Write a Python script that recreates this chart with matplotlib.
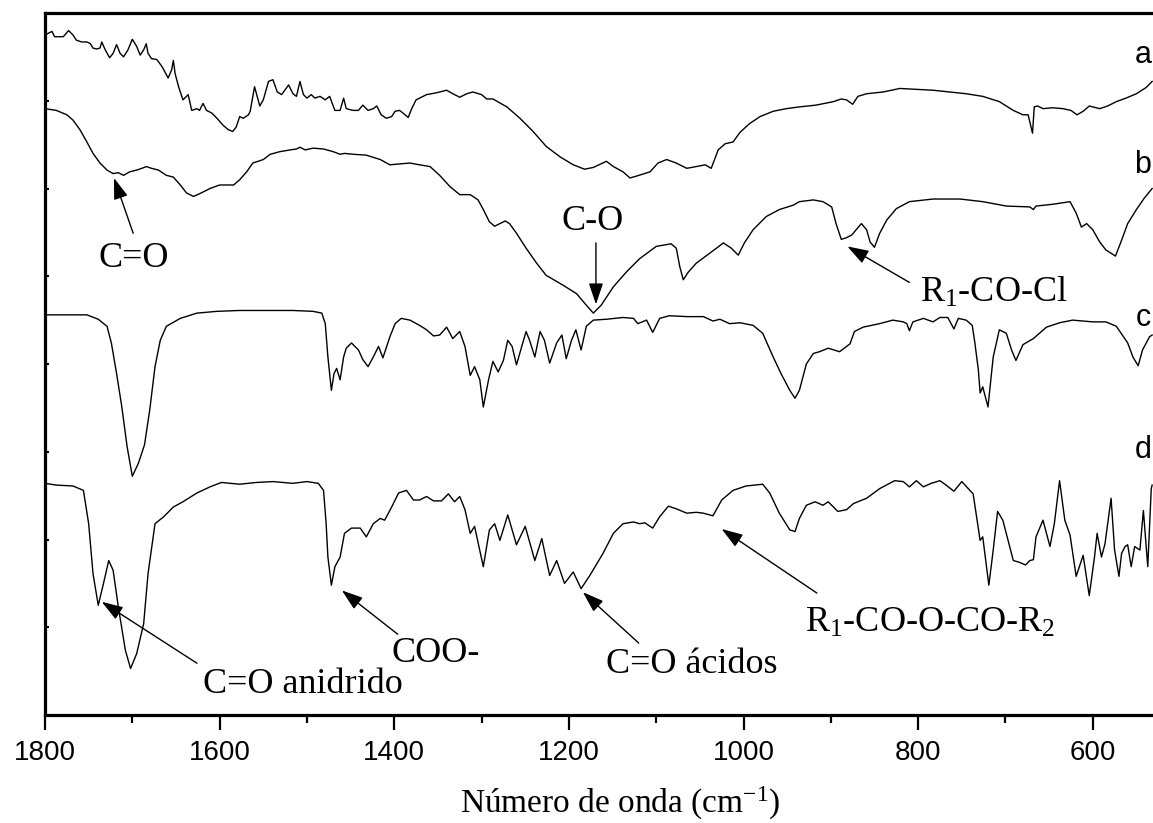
import matplotlib
matplotlib.use("Agg")
import matplotlib.pyplot as plt
from matplotlib.ticker import MultipleLocator

plt.rcParams['mathtext.fontset'] = 'custom'
plt.rcParams['mathtext.rm'] = 'Liberation Serif'
plt.rcParams['mathtext.it'] = 'Liberation Serif:italic'
plt.rcParams['mathtext.bf'] = 'Liberation Serif:bold'

# ---- data (wavenumber, offset intensity) ----
a_wn = [1800, 1792, 1789, 1779, 1773, 1768, 1764, 1758, 1752, 1748, 1745, 1741, 1737, 1735, 1731, 1726, 1722, 1718,
        1714, 1710, 1705, 1700, 1695, 1691, 1687, 1684, 1682, 1678, 1672, 1666, 1659, 1655, 1653, 1651, 1647, 1642,
        1636, 1632, 1626, 1623, 1619, 1615, 1609, 1603, 1596, 1590, 1585, 1581, 1577, 1573, 1567, 1565, 1560, 1554,
        1550, 1544, 1539, 1534, 1529, 1521, 1516, 1512, 1508, 1504, 1500, 1495, 1491, 1485, 1479, 1474, 1468, 1462,
        1458, 1455, 1447, 1441, 1436, 1430, 1424, 1420, 1415, 1409, 1403, 1399, 1394, 1390, 1384, 1380, 1375,
        1371, 1363, 1352, 1340, 1333, 1325, 1317, 1310, 1300, 1294, 1287, 1271, 1256, 1241, 1226, 1210, 1195, 1182,
        1172, 1157, 1149, 1138, 1130, 1123, 1107, 1098, 1088, 1077, 1065, 1054, 1044, 1037, 1029, 1021, 1012, 1004,
        993, 981, 966, 951,
        936, 917, 897, 888, 882, 875, 869, 859, 840, 821, 802, 783, 764, 745, 726, 707, 691, 680, 674, 669, 667, 663,
        657, 646, 634, 625, 618, 611, 604, 592, 583, 573, 562, 550, 539, 532]
a_val = [7.75, 7.79, 7.73, 7.73, 7.80, 7.75, 7.69, 7.67, 7.67, 7.65, 7.60, 7.59, 7.60, 7.67, 7.58, 7.49, 7.54, 7.64,
         7.54, 7.50, 7.58, 7.70, 7.62, 7.52, 7.58, 7.65, 7.54, 7.48, 7.47, 7.39, 7.26, 7.35, 7.46, 7.31, 7.16, 7.01,
         7.07, 6.89, 6.91, 6.89, 6.97, 6.89, 6.86, 6.80, 6.72, 6.67, 6.65, 6.70, 6.82, 6.80, 6.84, 6.88, 7.16, 6.94,
         7.01, 7.22, 7.24, 7.10, 7.07, 7.18, 7.08, 7.05, 7.22, 7.07, 7.03, 7.07, 7.03, 7.05, 7.01, 7.05, 6.89, 6.89,
         7.03, 6.91, 6.89, 6.89, 6.95, 6.89, 6.91, 6.94, 6.84, 6.80, 6.82, 6.88, 6.89, 6.86, 6.81, 6.91, 7.01,
         7.03, 7.07, 7.09, 7.12, 7.08, 7.04, 7.08, 7.10, 7.07, 7.02, 7.02, 6.93, 6.80, 6.65, 6.48, 6.36, 6.27, 6.22,
         6.24, 6.31, 6.25, 6.19, 6.12, 6.14, 6.19, 6.29, 6.33, 6.29, 6.23, 6.25, 6.27, 6.23, 6.44, 6.51, 6.53, 6.64,
         6.74, 6.82, 6.88, 6.91,
         6.93, 6.95, 6.99, 7.02, 7.01, 6.96, 7.05, 7.08, 7.10, 7.14, 7.13, 7.12, 7.10, 7.08, 7.05, 6.99, 6.89, 6.84,
         6.84, 6.63, 6.93, 6.94, 6.91, 6.92, 6.91, 6.89, 6.84, 6.88, 6.94, 6.91, 6.94, 6.99, 7.03, 7.08, 7.15, 7.22]

b_wn = [1800, 1787, 1775, 1768, 1760, 1752, 1745, 1737, 1729, 1722, 1716, 1710, 1703, 1695, 1689, 1684, 1678, 1670,
        1661, 1653, 1645, 1638, 1630, 1623, 1611, 1600, 1584, 1577, 1569, 1562, 1556, 1550, 1542, 1531, 1519, 1512,
        1508, 1502, 1493, 1481, 1470, 1462, 1457, 1447, 1432, 1416, 1405, 1394, 1382,
        1371, 1359, 1348, 1336, 1325, 1313, 1304, 1298, 1291, 1285, 1273, 1268, 1260, 1249, 1237, 1226, 1207, 1191,
        1180, 1172, 1163, 1149, 1134, 1119, 1100, 1083, 1077, 1073, 1069, 1063, 1054, 1039, 1023, 1014, 1006, 999,
        989, 974, 959, 943,
        936, 920, 909, 899, 894, 888, 882, 876, 871, 865, 859, 855, 850, 844, 836, 825, 810, 783, 752, 726, 699, 672,
        668, 665, 646, 626, 619, 613, 607, 600, 592, 585, 574, 567, 560, 550, 541, 532]
b_val = [6.91, 6.89, 6.84, 6.78, 6.67, 6.53, 6.40, 6.29, 6.21, 6.17, 6.18, 6.15, 6.19, 6.21, 6.23, 6.25, 6.23, 6.21,
         6.15, 6.13, 6.04, 5.95, 5.91, 5.94, 6.00, 6.04, 6.04, 6.10, 6.19, 6.29, 6.31, 6.33, 6.39, 6.42, 6.44, 6.45,
         6.47, 6.44, 6.46, 6.45, 6.42, 6.39, 6.40, 6.39, 6.38, 6.33, 6.27, 6.28, 6.29,
         6.27, 6.25, 6.15, 6.02, 5.93, 5.93, 5.87, 5.76, 5.62, 5.57, 5.63, 5.60, 5.49, 5.32, 5.15, 5.01, 4.90, 4.80,
         4.67, 4.58, 4.67, 4.88, 5.05, 5.20, 5.34, 5.37, 5.32, 5.11, 4.96, 5.05, 5.15, 5.26, 5.38, 5.32, 5.24, 5.38,
         5.53, 5.68, 5.76, 5.81,
         5.85, 5.87, 5.85, 5.79, 5.60, 5.42, 5.44, 5.47, 5.53, 5.60, 5.53, 5.39, 5.33, 5.49, 5.64, 5.77, 5.85, 5.88,
         5.88, 5.85, 5.80, 5.79, 5.76, 5.80, 5.82, 5.85, 5.72, 5.56, 5.60, 5.53, 5.39, 5.30, 5.23, 5.41, 5.60, 5.76,
         5.89, 6.00]

c_wn = [1800, 1787, 1768, 1752, 1739, 1729, 1724, 1718, 1712, 1706, 1700, 1693, 1686, 1680, 1674, 1668, 1661, 1645,
        1626, 1603, 1577, 1546, 1516, 1493, 1483, 1479, 1476, 1472, 1469, 1466, 1462, 1458, 1455, 1449, 1441, 1436,
        1430, 1424, 1418, 1413, 1405, 1399, 1392, 1382,
        1371, 1363, 1355, 1348, 1340, 1333, 1325, 1319, 1313, 1308, 1302, 1298, 1292, 1287, 1281, 1275, 1270, 1265,
        1260, 1254, 1249, 1245, 1239, 1233, 1228, 1222, 1214, 1208, 1203, 1197, 1192, 1186, 1180, 1172, 1157, 1138,
        1126, 1121, 1111, 1104, 1096, 1085, 1065, 1046, 1035, 1027, 1016, 1004, 989, 978, 966, 957, 947, 941,
        936, 928, 920, 913, 903, 890, 878, 873, 863, 844, 829, 817, 813, 810, 806, 794, 783, 775, 766, 759, 754, 745,
        738, 735, 731, 729, 726, 720, 714, 707, 699, 693, 688, 680, 668, 653, 638, 623, 600, 585, 573, 560, 554, 548,
        543, 535, 532]
c_val = [4.56, 4.56, 4.56, 4.56, 4.51, 4.43, 4.24, 3.89, 3.51, 3.06, 2.72, 2.87, 3.08, 3.48, 3.97, 4.27, 4.43, 4.52,
         4.58, 4.60, 4.61, 4.61, 4.61, 4.60, 4.58, 4.46, 4.08, 3.70, 3.89, 3.95, 3.82, 4.08, 4.18, 4.24, 4.16, 4.05,
         3.97, 4.08, 4.20, 4.07, 4.31, 4.46, 4.52, 4.50,
         4.44, 4.39, 4.32, 4.33, 4.42, 4.29, 4.37, 4.20, 3.87, 3.97, 3.82, 3.51, 3.82, 4.03, 3.91, 4.04, 4.27, 4.20,
         3.99, 4.20, 4.37, 4.27, 4.08, 4.37, 4.27, 4.01, 4.24, 4.33, 4.06, 4.27, 4.39, 4.16, 4.43, 4.50, 4.51, 4.53,
         4.52, 4.46, 4.50, 4.36, 4.52, 4.55, 4.54, 4.54, 4.49, 4.51, 4.46, 4.47, 4.44, 4.35, 4.08, 3.89, 3.70, 3.61,
         3.70, 4.00, 4.12, 4.14, 4.18, 4.14, 4.23, 4.37, 4.42, 4.46, 4.50, 4.48, 4.46, 4.38, 4.48, 4.52, 4.48, 4.53,
         4.53, 4.40, 4.52, 4.50, 4.44, 4.24, 3.93, 3.67, 3.74, 3.51, 4.08, 4.39, 4.35, 4.16, 4.04, 4.22, 4.29, 4.42,
         4.47, 4.50, 4.48, 4.48, 4.43, 4.24, 4.08, 3.98, 4.16, 4.31, 4.33]

d_wn = [1800, 1787, 1768, 1756, 1750, 1745, 1739, 1733, 1727, 1722, 1716, 1708, 1702, 1695, 1687, 1682, 1674, 1664,
        1653, 1642, 1626, 1611, 1598, 1577, 1558, 1539, 1516, 1500, 1487, 1481, 1478, 1476, 1472, 1468, 1462, 1457,
        1449, 1439, 1432, 1424, 1416, 1411, 1403, 1395, 1386, 1378,
        1371, 1363, 1355, 1346, 1338, 1331, 1325, 1319, 1313, 1308, 1298, 1291, 1285, 1279, 1270, 1260, 1250, 1239,
        1231, 1222, 1214, 1205, 1195, 1186, 1176, 1161, 1149, 1138, 1126, 1119, 1113, 1104, 1096, 1086, 1077, 1065,
        1054, 1046, 1035, 1025, 1012, 997, 978, 970, 959, 947, 941,
        936, 928, 918, 909, 903, 892, 882, 874, 859, 844, 827, 817, 810, 802, 794, 785, 775, 768, 759, 750, 737, 729,
        726, 719, 714, 709, 703, 697, 691, 684, 677, 672, 668, 665, 657, 649, 644, 638, 632, 626, 619, 611, 604, 598,
        595, 590, 586, 579, 575, 570, 567, 563, 560, 556, 552, 546, 542, 537, 533, 532]
d_val = [2.64, 2.62, 2.61, 2.56, 2.18, 1.61, 1.25, 1.50, 1.76, 1.65, 1.23, 0.74, 0.53, 0.70, 1.04, 1.61, 2.18, 2.26,
         2.37, 2.43, 2.53, 2.60, 2.65, 2.63, 2.65, 2.66, 2.64, 2.66, 2.64, 2.56, 2.18, 1.80, 1.48, 1.69, 1.80, 2.07,
         2.13, 2.13, 2.03, 2.18, 2.24, 2.22, 2.37, 2.53, 2.56, 2.45,
         2.45, 2.49, 2.44, 2.44, 2.52, 2.43, 2.49, 2.34, 2.07, 2.15, 1.69, 2.11, 2.18, 1.99, 2.28, 1.94, 2.15, 1.76,
         2.01, 1.59, 1.76, 1.50, 1.63, 1.44, 1.59, 1.84, 2.07, 2.18, 2.20, 2.18, 2.19, 2.13, 2.26, 2.38, 2.35, 2.30,
         2.31, 2.30, 2.27, 2.45, 2.56, 2.61, 2.63, 2.53, 2.30, 2.11, 2.09,
         2.24, 2.39, 2.43, 2.39, 2.43, 2.32, 2.34, 2.41, 2.47, 2.58, 2.67, 2.66, 2.60, 2.67, 2.60, 2.64, 2.67, 2.62,
         2.55, 2.66, 2.52, 1.99, 2.03, 1.48, 1.88, 2.32, 2.22, 1.99, 1.76, 1.74, 1.71, 1.76, 1.77, 2.03, 2.22, 1.92,
         2.18, 2.67, 2.22, 2.05, 1.58, 1.82, 1.36, 1.80, 2.07, 1.80, 1.95, 2.47, 1.88, 1.58, 1.84, 1.92, 1.94, 1.69,
         1.92, 1.88, 2.33, 1.69, 2.58, 2.62]

curve_labels = ['a', 'b', 'c', 'd']
curve_label_y = [7.52, 6.27, 4.52, 3.02]

x_ticks = [1800, 1600, 1400, 1200, 1000, 800, 600]
x_label = 'Número de onda (cm$^{-1}$)'

# annotations: text, text baseline-left position, arrow head, arrow tail
annotations = [
    ('C=O', (1739, 5.105), (1721, 6.12), (1699, 5.49)),
    ('C-O', (1208, 5.527), (1169, 4.68), (1169, 5.38)),
    ('R$_1$-CO-Cl', (798, 4.706), (881, 5.34), (810, 4.93)),
    ('C=O anidrido', (1619, 0.25), (1735, 1.29), (1626, 0.59)),
    ('COO-', (1403, 0.60), (1460, 1.42), (1396, 0.92)),
    ('C=O ácidos', (1158, 0.48), (1184, 1.40), (1120, 0.82)),
    ('R$_1$-CO-O-CO-R$_2$', (930, 0.946), (1025, 2.12), (916, 1.39)),
]

fig = plt.figure(figsize=(11.53, 8.23), dpi=100)
ax = fig.add_axes([45 / 1153, 1 - 715 / 823, 1 - 45 / 1153, (715 - 13) / 823])

for wn, val in [(a_wn, a_val), (b_wn, b_val), (c_wn, c_val), (d_wn, d_val)]:
    ax.plot(wn, val, color='black', lw=1.0)

ax.set_xlim(1800, 531)
ax.set_ylim(0, 8)

ax.set_xticks(x_ticks)
ax.set_xticklabels([str(t) for t in x_ticks], fontfamily='Liberation Sans', fontsize=20)
ax.xaxis.set_minor_locator(MultipleLocator(100))
ax.tick_params(axis='x', which='major', direction='out', length=11, width=1.6, pad=7)
ax.tick_params(axis='x', which='minor', direction='out', length=6, width=1.6)
ax.set_yticks(range(0, 9))
ax.set_yticklabels([])
ax.tick_params(axis='y', which='major', direction='in', length=3, width=1.5)

for side in ['left', 'bottom', 'top']:
    ax.spines[side].set_linewidth(2.3)
ax.spines['right'].set_visible(False)

ax.set_xlabel(x_label, fontfamily='Liberation Serif', fontsize=24)
ax.xaxis.label.set_va('baseline')
ax.xaxis.set_label_coords(0.519, -0.1396)

for lab, yy in zip(curve_labels, curve_label_y):
    ax.text(533, yy, lab, fontfamily='Liberation Sans', fontsize=22, ha='right', va='center')

for txt, tpos, head, tail in annotations:
    ax.text(tpos[0], tpos[1], txt, fontfamily='Liberation Serif', fontsize=26, ha='left', va='baseline')
    ax.annotate('', xy=head, xytext=tail,
                arrowprops=dict(arrowstyle='-|>,head_length=0.65,head_width=0.22', mutation_scale=20,
                                lw=1.0, color='black', shrinkA=0, shrinkB=0))

fig.savefig('out.png', dpi=100)
